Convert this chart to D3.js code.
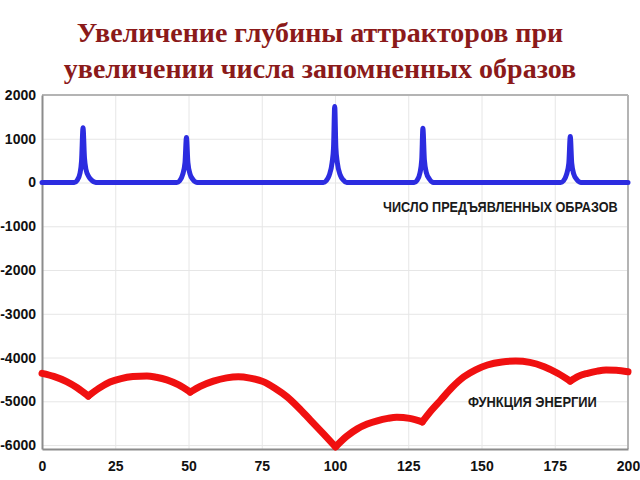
<!DOCTYPE html>
<html><head><meta charset="utf-8">
<script src="https://cdn.jsdelivr.net/npm/d3@7"></script>
<style>body{margin:0;background:#fff} svg{display:block}</style>
</head><body>
<svg id="c" width="640" height="480"></svg>
<script>
const titleLines = ["Увеличение глубины аттракторов при", "увеличении числа запомненных образов"];
const xTicks = [0, 25, 50, 75, 100, 125, 150, 175, 200];
const yTicks = [2000, 1000, 0, -1000, -2000, -3000, -4000, -5000, -6000];
const blueLabel = "ЧИСЛО ПРЕДЪЯВЛЕННЫХ ОБРАЗОВ";
const redLabel = "ФУНКЦИЯ ЭНЕРГИИ";

// Number of presented patterns (blue)
const blueX = [0, 10, 11, 12, 13, 13.5, 14, 14.5, 15, 16, 17, 18, 19,
  46, 47, 48, 48.8, 49.3, 49.8, 50.5, 51.5, 52.5, 53.5,
  96, 97, 98, 99, 99.5, 99.9, 100.3, 100.8, 101.8, 102.8, 104,
  127, 128, 129, 129.6, 130, 130.5, 131.2, 132.2, 133.2, 134,
  177, 178, 179, 179.8, 180.3, 180.8, 181.5, 182.5, 183.5, 184.5, 200];
const blueY = [0, 0, 0, 50, 220, 500, 1250, 560, 300, 130, 50, 10, 0,
  0, 40, 180, 450, 1030, 450, 200, 70, 10, 0,
  0, 40, 160, 450, 800, 1740, 800, 450, 170, 60, 0,
  0, 50, 220, 520, 1240, 520, 220, 80, 10, 0,
  0, 40, 180, 440, 1050, 440, 190, 70, 10, 0, 0];

// Energy function (red)
const redX = [0, 4, 8.4, 12, 15.8, 19.5, 23.2, 27, 31, 35.8, 39, 42.6, 46.5, 50.6,
  54, 58.5, 63, 67, 71, 75.5, 79.5, 83.6, 87.5, 91.6, 96, 100.2,
  104, 107.6, 111, 114.4, 118, 121.1, 125.5, 129.8,
  133, 136.1, 140, 144, 148, 152, 157, 161.7, 166.5, 171.4, 176, 180.3,
  183, 186.2, 189.5, 192.5, 196, 200];
const redY = [-4360, -4430, -4550, -4690, -4880, -4700, -4560, -4480, -4435, -4420, -4450, -4510, -4620, -4790,
  -4660, -4540, -4465, -4440, -4470, -4550, -4700, -4895, -5140, -5430, -5740, -6040,
  -5800, -5630, -5520, -5445, -5390, -5365, -5390, -5470,
  -5200, -4970, -4680, -4440, -4280, -4170, -4100, -4080, -4110, -4210, -4360, -4540,
  -4430, -4360, -4310, -4286, -4290, -4325];

const svg = d3.select("#c");
const x = d3.scaleLinear().domain([0, 200]).range([42, 628]);
const y = d3.scaleLinear().domain([-6090, 2000]).range([449, 95]);

// title
svg.append("g").selectAll("text").data(titleLines).join("text")
  .attr("x", 320).attr("y", (d, i) => 42 + i * 36)
  .attr("text-anchor", "middle")
  .attr("font-family", "'Liberation Serif','Times New Roman',serif")
  .attr("font-weight", "bold").attr("font-size", 28)
  .attr("fill", "#8b1a1a").text(d => d);

// grid
svg.append("g").attr("transform", `translate(0,${y(-6090)})`)
  .call(d3.axisBottom(x).tickValues(xTicks).tickSize(-(y(-6090) - y(2000))).tickFormat(""))
  .call(g => g.select(".domain").remove())
  .call(g => g.selectAll("line").attr("stroke", "#e6e6e6"));
svg.append("g").attr("transform", `translate(${x(0)},0)`)
  .call(d3.axisLeft(y).tickValues(yTicks).tickSize(-(x(200) - x(0))).tickFormat(""))
  .call(g => g.select(".domain").remove())
  .call(g => g.selectAll("line").attr("stroke", "#e6e6e6"));

// frame
svg.append("line").attr("x1", x(0)).attr("x2", x(200)).attr("y1", y(2000)).attr("y2", y(2000)).attr("stroke", "#b4b4b4").attr("stroke-width", 2);
svg.append("line").attr("x1", x(200)).attr("x2", x(200)).attr("y1", y(2000)).attr("y2", y(-6090)).attr("stroke", "#b4b4b4").attr("stroke-width", 2);

// tick labels
const xAx = svg.append("g").attr("transform", `translate(0,${y(-6090)})`)
  .call(d3.axisBottom(x).tickValues(xTicks).tickSize(0).tickPadding(12).tickFormat(d3.format("d")));
xAx.select(".domain").attr("stroke", "#8c8c8c").attr("stroke-width", 2);
xAx.selectAll("text").attr("font-family", "'Liberation Sans',Arial,sans-serif").attr("font-weight", "bold").attr("font-size", 14).attr("fill", "#111");

const yAx = svg.append("g").attr("transform", `translate(${x(0)},0)`)
  .call(d3.axisLeft(y).tickValues(yTicks).tickSize(0).tickPadding(6).tickFormat(d => String(d)));
yAx.select(".domain").attr("stroke", "#8c8c8c").attr("stroke-width", 2);
yAx.selectAll("text").attr("font-family", "'Liberation Sans',Arial,sans-serif").attr("font-weight", "bold").attr("font-size", 14).attr("fill", "#111");

// blue line
const blue = blueX.map((v, i) => [v, blueY[i]]);
svg.append("path").datum(blue)
  .attr("fill", "none").attr("stroke", "#2c2ce0").attr("stroke-width", 5)
  .attr("stroke-linejoin", "round").attr("stroke-linecap", "round")
  .attr("d", d3.line().x(d => x(d[0])).y(d => y(d[1])).curve(d3.curveMonotoneX));

// red line split at local minima (cusps)
const red = redX.map((v, i) => [v, redY[i]]);
const segs = [];
let cur = [red[0]];
for (let i = 1; i < red.length; i++) {
  cur.push(red[i]);
  if (i < red.length - 1 && red[i][1] < red[i - 1][1] && red[i][1] < red[i + 1][1]) {
    segs.push(cur); cur = [red[i]];
  }
}
segs.push(cur);
svg.append("g").selectAll("path").data(segs).join("path")
  .attr("fill", "none").attr("stroke", "#f01010").attr("stroke-width", 7)
  .attr("stroke-linejoin", "round").attr("stroke-linecap", "round")
  .attr("d", d3.line().x(d => x(d[0])).y(d => y(d[1])).curve(d3.curveMonotoneX));

// annotations (condensed by horizontal scaling)
function label(txt, x0, y0, w) {
  const g = svg.append("g");
  const t = g.append("text").attr("x", 0).attr("y", 0)
    .attr("font-family", "'Liberation Sans Narrow','Arial Narrow','Liberation Sans',sans-serif")
    .attr("font-size", 15.5).attr("font-weight", "bold").attr("fill", "#1a1a1a").text(txt);
  const len = t.node().getComputedTextLength();
  g.attr("transform", `translate(${x0},${y0}) scale(${w / len},1)`);
}
label(blueLabel, 383, 212, 235);
label(redLabel, 468, 407, 129);
</script>
</body></html>
